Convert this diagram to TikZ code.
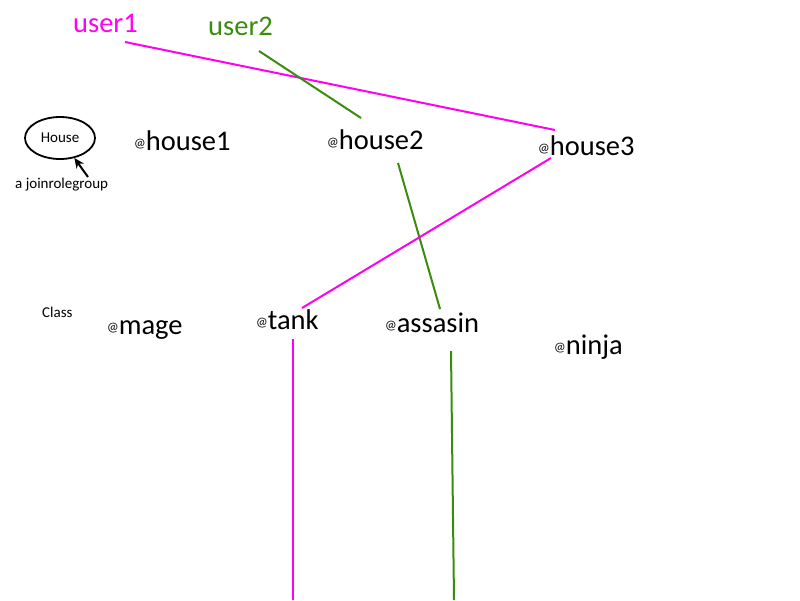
\documentclass[tikz,border=0pt]{standalone}
\usepackage{fontspec}
\setmainfont{Carlito}
\usepackage{tikz}
\usetikzlibrary{arrows.meta,shapes.geometric}

\definecolor{userpink}{HTML}{FF00F0}
\definecolor{usergreen}{HTML}{3A8C0E}

\newcommand{\at}{\raisebox{3pt}{\fontsize{13}{13}\selectfont @}}

\tikzset{
  group/.style={anchor=base west,inner sep=0pt,font=\fontsize{28.5}{30}\selectfont},
  user/.style={anchor=base west,inner sep=0pt,font=\fontsize{28.5}{30}\selectfont},
  note/.style={anchor=base west,inner sep=0pt,font=\fontsize{15}{17}\selectfont},
  pinkline/.style={draw=userpink,line width=2pt},
  greenline/.style={draw=usergreen,line width=2pt}
}

\begin{document}
\begin{tikzpicture}
  [x=1pt,y=-1pt]
  \useasboundingbox (0,0) rectangle (800,600);
  % users
  \node[user,text=userpink]  (user1) at (73,32)  {user1};
  \node[user,text=usergreen] (user2) at (208,35) {user2};

  % legend
  \node[draw,ellipse,line width=1.8pt,minimum width=70pt,minimum height=42pt,inner sep=0pt,
        font=\fontsize{15}{17}\selectfont] (legend) at (60,138) {House};
  \node[note] (joinrole) at (15,188) {a joinrolegroup};
  \node[note] (class) at (42,317) {Class};
  \coordinate (tail) at (88,177);
  \draw[-{Stealth[length=10pt,width=9pt]},line width=2pt] (tail) -- (legend);

  % houses
  \node[group] (house1) at (134,150) {\at house1};
  \node[group] (house2) at (327,149) {\at house2};
  \node[group] (house3) at (538,155) {\at house3};

  % classes
  \node[group] (mage)    at (107,334) {\at mage};
  \node[group] (tank)    at (256,329) {\at tank};
  \node[group] (assasin) at (385,332) {\at assasin};
  \node[group] (ninja)   at (554,354) {\at ninja};

  \coordinate (tankend)    at (293,600);
  \coordinate (assasinend) at (454,600);

  \draw[pinkline]  ([shift={(52,10)}]user1.base west) -- ([shift={(17,-25)}]house3.base west);
  \draw[greenline] ([shift={(51,16)}]user2.base west) -- ([shift={(34,-31)}]house2.base west);
  \draw[greenline] ([shift={(71,14)}]house2.base west) -- ([shift={(55,-23)}]assasin.base west);
  \draw[pinkline]  ([shift={(13,3)}]house3.base west) -- ([shift={(46,-21)}]tank.base west);
  \draw[pinkline]  ([shift={(37,10)}]tank.base west) -- (tankend);
  \draw[greenline] ([shift={(66,19)}]assasin.base west) -- (assasinend);
\end{tikzpicture}
\end{document}
